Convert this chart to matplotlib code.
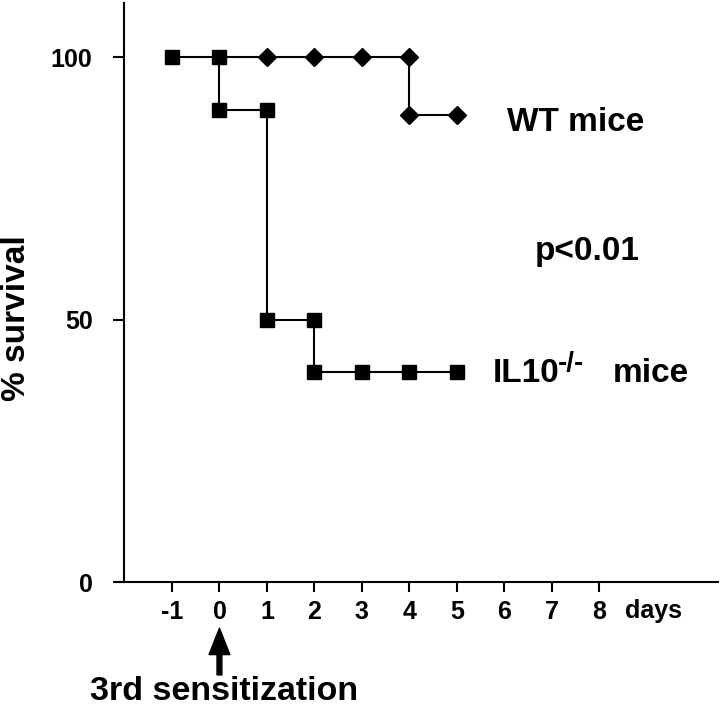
import matplotlib
matplotlib.use("Agg")
import matplotlib.pyplot as plt

plt.rcParams['font.family'] = ['Liberation Sans', 'DejaVu Sans']
plt.rcParams['font.weight'] = 'bold'

# survival data (step points)
wt_days = [0, 1, 2, 3, 4, 4, 5]
wt_surv = [100, 100, 100, 100, 100, 88.9, 88.9]
ko_days = [-1, 0, 0, 1, 1, 2, 2, 3, 4, 5]
ko_surv = [100, 100, 90, 90, 50, 50, 40, 40, 40, 40]

xticks = [-1, 0, 1, 2, 3, 4, 5, 6, 7, 8]
yticks = [0, 50, 100]

fig = plt.figure(figsize=(7.2, 7.07), dpi=100)
ax = fig.add_axes([115/720, 1 - 582/707, 603/720, 579/707])

# WT diamond at day 0 sits under the IL10 square
ax.plot(wt_days, wt_surv, color='black', lw=1.5, marker='D', ms=9,
        markevery=list(range(1, len(wt_days))), zorder=3)
ax.plot(ko_days, ko_surv, color='black', lw=1.5, marker='s', ms=10, zorder=4)

ax.set_xlim(-2.2, 10.5)
ax.set_ylim(0, 110.3)

ax.spines['top'].set_visible(False)
ax.spines['right'].set_visible(False)
ax.spines['left'].set_position(('data', -2))
for s in ['left', 'bottom']:
    ax.spines[s].set_linewidth(1.5)

ax.set_xticks(xticks)
ax.set_xticklabels([str(t) for t in xticks])
ax.set_yticks(yticks)
ax.tick_params(axis='x', length=7, width=1.5, pad=6, labelsize=18)
ax.tick_params(axis='y', length=8, width=1.5, pad=15, labelsize=18)

ax.text(8.55, -5.5, 'days', fontsize=18, fontweight='bold', ha='left', va='center', clip_on=False)

ax.text(6.06, 87.6, 'WT mice', fontsize=24, fontweight='bold', ha='left', va='center')
ax.text(6.65, 62.9, 'p<0.01', fontsize=24, fontweight='bold', ha='left', va='center')
t1 = ax.text(5.75, 39.8, 'IL10', fontsize=24, fontweight='bold', ha='left', va='center')
ax.annotate('-/-', xy=(1, 1), xycoords=t1, xytext=(-1, 5), textcoords='offset points',
            fontsize=20, fontweight='bold', ha='left', va='top')
ax.text(8.28, 39.8, 'mice', fontsize=24, fontweight='bold', ha='left', va='center')

ax.annotate('', xy=(0, -8.8), xytext=(0, -17.7), xycoords='data',
            arrowprops=dict(facecolor='black', edgecolor='black', width=3.5,
                            headwidth=15, headlength=19, shrink=0),
            annotation_clip=False)
ax.text(-2.73, -20.8, '3rd sensitization', fontsize=24.5, fontweight='bold',
        ha='left', va='center', clip_on=False)

fig.text(17/720, 1 - 318/707, '% survival', rotation=90, fontsize=24,
         fontweight='bold', ha='center', va='center')

fig.savefig('out.png', dpi=100)
